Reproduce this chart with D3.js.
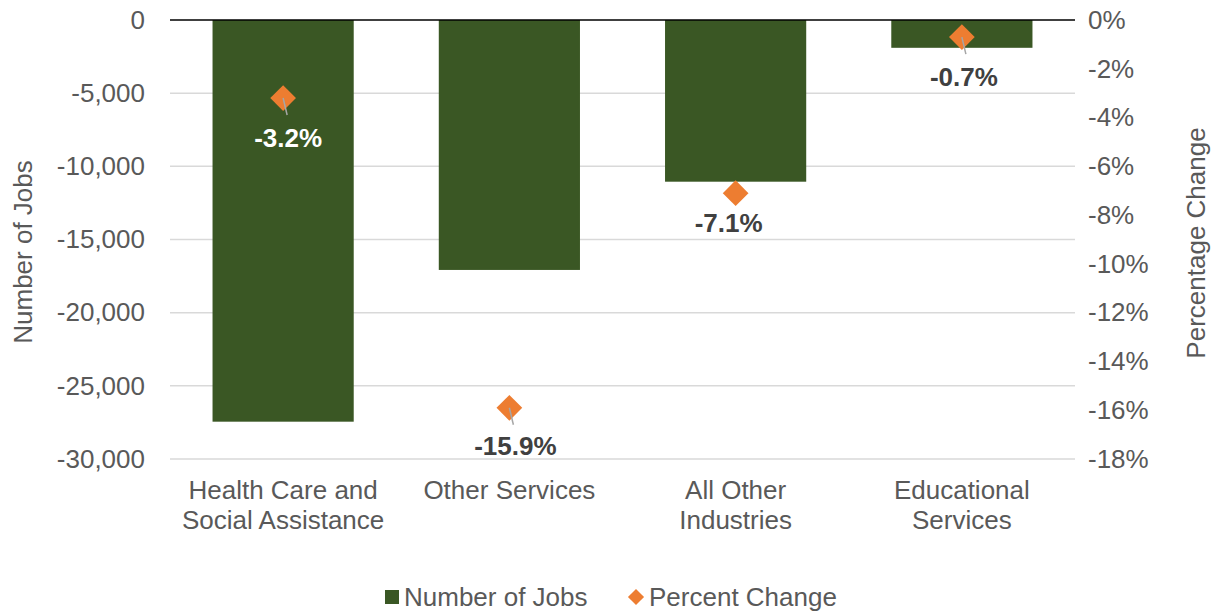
<!DOCTYPE html>
<html>
<head>
<meta charset="utf-8">
<script src="https://cdn.jsdelivr.net/npm/d3@7"></script>
<style>
  body { margin: 0; background: #fff; }
  svg { font-family: "Liberation Sans", Arial, sans-serif; }
</style>
</head>
<body>
<div id="chart"></div>
<script>
const categories = [
  ["Health Care and", "Social Assistance"],
  ["Other Services"],
  ["All Other", "Industries"],
  ["Educational", "Services"],
];
const jobs = [-27450, -17080, -11050, -1900];
const pctChange = [-3.2, -15.9, -7.1, -0.7];
const jobTicks = [0, -5000, -10000, -15000, -20000, -25000, -30000];
const pctTicks = [0, -2, -4, -6, -8, -10, -12, -14, -16, -18];

// label placement relative to marker (layout only)
const labelOffsets = [[5, 40], [6, 38], [-7, 30], [2, 40]];
const showLeader = [true, true, false, true];
const labelColors = ["#fff", "#404040", "#404040", "#404040"];

const width = 1215;
const height = 611;
const margin = { top: 20, right: 140, bottom: 152, left: 170 };

const svg = d3
  .select("#chart")
  .append("svg")
  .attr("width", width)
  .attr("height", height);

const x = d3
  .scaleBand()
  .domain(d3.range(categories.length))
  .range([margin.left, width - margin.right])
  .paddingInner(0.376)
  .paddingOuter(0.188);

const y = d3
  .scaleLinear()
  .domain([-30000, 0])
  .range([height - margin.bottom, margin.top]);

const y2 = d3
  .scaleLinear()
  .domain([-18, 0])
  .range([height - margin.bottom, margin.top]);

const textColor = "#595959";
const fontSize = 26;

// gridlines
svg
  .append("g")
  .selectAll("line")
  .data(jobTicks.filter((d) => d !== 0))
  .join("line")
  .attr("x1", margin.left)
  .attr("x2", width - margin.right)
  .attr("y1", (d) => y(d))
  .attr("y2", (d) => y(d))
  .attr("stroke", "#d9d9d9")
  .attr("stroke-width", 1.5);

// left axis
const fmt = d3.format(",");
const leftAxis = svg
  .append("g")
  .attr("transform", `translate(${margin.left},0)`)
  .call(d3.axisLeft(y).tickValues(jobTicks).tickSize(0).tickPadding(25).tickFormat((d) => fmt(d).replace("−", "-")));
leftAxis.select(".domain").remove();
leftAxis
  .selectAll("text")
  .attr("fill", textColor)
  .attr("font-size", fontSize)
  .attr("font-family", "Liberation Sans, Arial, sans-serif");

// right axis
const rightAxis = svg
  .append("g")
  .attr("transform", `translate(${width - margin.right},0)`)
  .call(d3.axisRight(y2).tickValues(pctTicks).tickSize(0).tickPadding(13).tickFormat((d) => d + "%"));
rightAxis.select(".domain").remove();
rightAxis
  .selectAll("text")
  .attr("fill", textColor)
  .attr("font-size", fontSize)
  .attr("font-family", "Liberation Sans, Arial, sans-serif");

// bars
svg
  .append("g")
  .selectAll("rect")
  .data(jobs)
  .join("rect")
  .attr("x", (d, i) => x(i))
  .attr("width", x.bandwidth())
  .attr("y", y(0))
  .attr("height", (d) => y(d) - y(0))
  .attr("fill", "#3a5724");

// zero line
svg
  .append("line")
  .attr("x1", margin.left)
  .attr("x2", width - margin.right)
  .attr("y1", y(0))
  .attr("y2", y(0))
  .attr("stroke", "#000")
  .attr("stroke-width", 1.5);

// category labels
const cat = svg
  .append("g")
  .selectAll("text")
  .data(categories)
  .join("text")
  .attr("x", (d, i) => x(i) + x.bandwidth() / 2)
  .attr("y", height - margin.bottom + 40)
  .attr("text-anchor", "middle")
  .attr("fill", textColor)
  .attr("font-size", fontSize);
cat
  .selectAll("tspan")
  .data((d) => d)
  .join("tspan")
  .attr("x", function () {
    return d3.select(this.parentNode).attr("x");
  })
  .attr("dy", (d, i) => (i === 0 ? 0 : 30))
  .text((d) => d);

// percent markers
const cx = (i) => x(i) + x.bandwidth() / 2;
const diamond = d3.symbol().type(d3.symbolSquare).size(330);
const points = pctChange.map((v, i) => ({ v, i }));

svg
  .append("g")
  .selectAll("path")
  .data(points)
  .join("path")
  .attr("d", diamond)
  .attr("transform", (d) => `translate(${cx(d.i)},${y2(d.v)}) rotate(45)`)
  .attr("fill", "#ed7d31");

// leader lines
svg
  .append("g")
  .selectAll("line")
  .data(points.filter((d) => showLeader[d.i]))
  .join("line")
  .attr("x1", (d) => cx(d.i))
  .attr("y1", (d) => y2(d.v))
  .attr("x2", (d) => cx(d.i) + 4)
  .attr("y2", (d) => y2(d.v) + 17)
  .attr("stroke", "#a6a6a6")
  .attr("stroke-width", 1.5);

// data labels
svg
  .append("g")
  .selectAll("text")
  .data(points)
  .join("text")
  .attr("x", (d) => cx(d.i) + labelOffsets[d.i][0])
  .attr("y", (d) => y2(d.v) + labelOffsets[d.i][1])
  .attr("dy", "0.35em")
  .attr("text-anchor", "middle")
  .attr("font-size", fontSize)
  .attr("font-weight", "bold")
  .attr("fill", (d) => labelColors[d.i])
  .text((d) => d.v.toFixed(1) + "%");

// axis titles
svg
  .append("text")
  .attr("transform", "translate(32,252) rotate(-90)")
  .attr("text-anchor", "middle")
  .attr("fill", textColor)
  .attr("font-size", fontSize)
  .text("Number of Jobs");

svg
  .append("text")
  .attr("transform", "translate(1205,243) rotate(-90)")
  .attr("text-anchor", "middle")
  .attr("fill", textColor)
  .attr("font-size", fontSize)
  .text("Percentage Change");

// legend
const legend = svg.append("g").attr("transform", "translate(0,597)");
legend
  .append("rect")
  .attr("x", 385)
  .attr("y", -7)
  .attr("width", 14)
  .attr("height", 14)
  .attr("fill", "#3a5724");
legend
  .append("text")
  .attr("x", 404)
  .attr("dy", "0.35em")
  .attr("fill", textColor)
  .attr("font-size", fontSize)
  .text("Number of Jobs");
legend
  .append("path")
  .attr("d", d3.symbol().type(d3.symbolSquare).size(130))
  .attr("transform", "translate(636,0) rotate(45)")
  .attr("fill", "#ed7d31");
legend
  .append("text")
  .attr("x", 649)
  .attr("dy", "0.35em")
  .attr("fill", textColor)
  .attr("font-size", fontSize)
  .text("Percent Change");
</script>
</body>
</html>
